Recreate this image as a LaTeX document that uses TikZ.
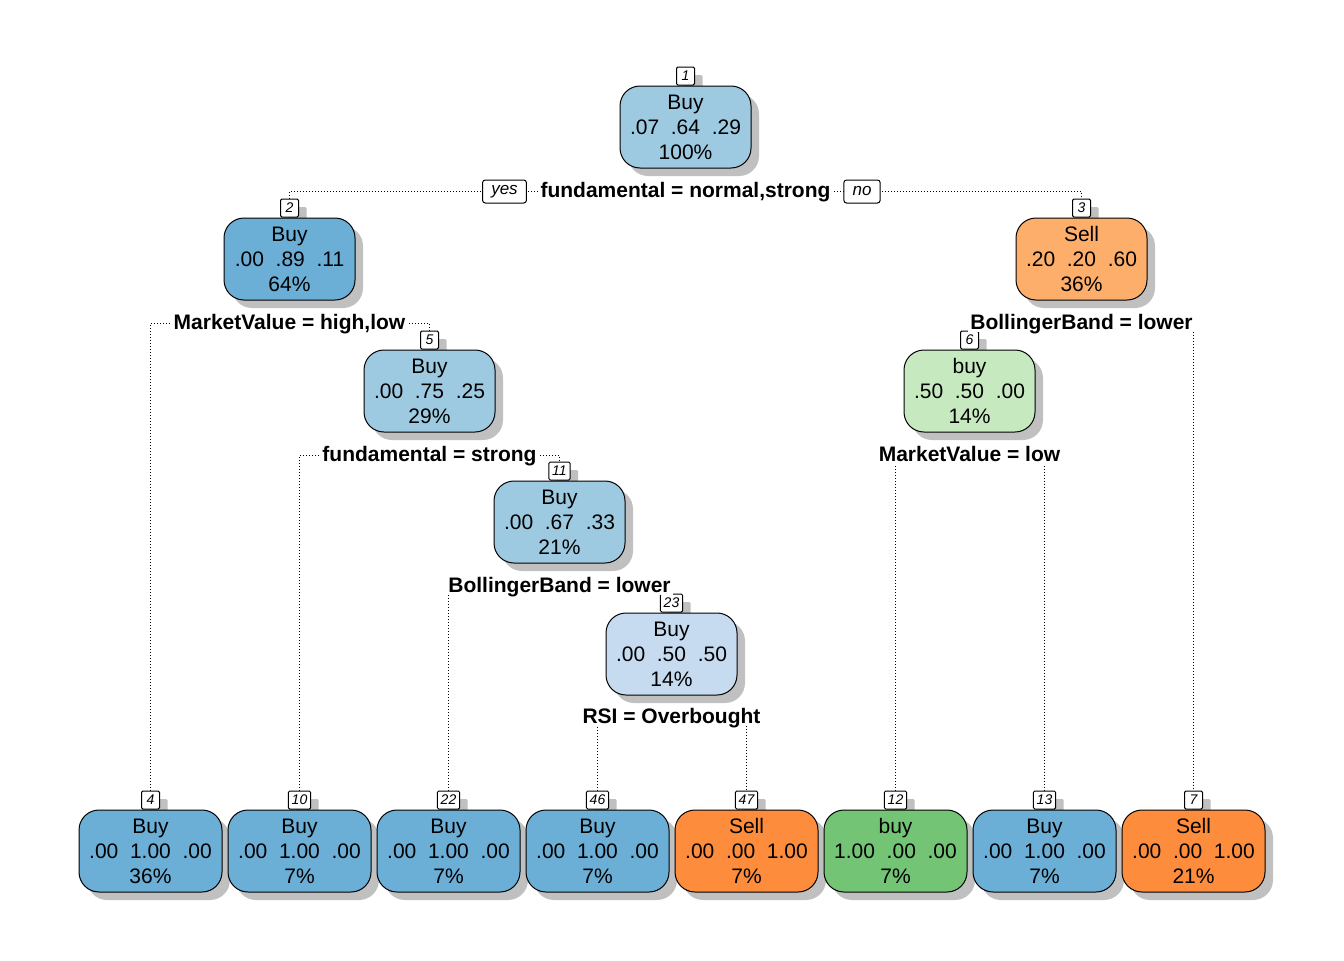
\documentclass[tikz,border=0pt]{standalone}
\usepackage{fontspec}
\setmainfont{Liberation Sans}
\usepackage{tikz}
\usetikzlibrary{shapes,positioning,shadows,backgrounds}
\usepackage{xcolor}
\definecolor{rpblue1}{RGB}{198,219,239}
\definecolor{rpblue2}{RGB}{158,202,225}
\definecolor{rpblue3}{RGB}{107,174,214}
\definecolor{rporange1}{RGB}{253,174,107}
\definecolor{rporange2}{RGB}{253,141,60}
\definecolor{rpgreen1}{RGB}{199,233,192}
\definecolor{rpgreen2}{RGB}{116,196,118}
\definecolor{rpshadow}{RGB}{192,192,192}
\tikzstyle{edge} = [line width=0.75pt, dash pattern=on 0.75pt off 1.5pt, color=black]
\tikzstyle{treenode} = [rectangle, rounded corners=15pt, minimum width=98.25pt, minimum height=61.5pt, text centered, align=center, draw=black, line width=0.75pt, inner sep=1pt, font=\fontsize{15.75}{18.75}\selectfont, drop shadow={shadow xshift=6pt, shadow yshift=-6pt, fill=rpshadow, opacity=1}]
\tikzstyle{leaf} = [treenode, minimum width=107.25pt]
\tikzstyle{numbox} = [rectangle, rounded corners=1pt, draw=black, fill=white, line width=0.75pt, anchor=south, minimum width=13.5pt, minimum height=13.5pt, inner xsep=2.5pt, inner ysep=0pt, font=\fontsize{10.5}{12}\selectfont\itshape, drop shadow={shadow xshift=6pt, shadow yshift=-6pt, fill=rpshadow, opacity=1}]
\tikzstyle{splitlabel} = [fill=white, inner xsep=1.5pt, inner ysep=0.5pt, text height=11.3pt, text depth=1.2pt, font=\fontsize{15.75}{18.75}\selectfont\bfseries]
\tikzstyle{yesno} = [rectangle, rounded corners=2pt, draw=black, fill=white, line width=0.75pt, minimum height=17.25pt, inner xsep=6.5pt, inner ysep=0pt, font=\fontsize{12.75}{14}\selectfont\itshape]

\begin{document}
\begin{tikzpicture}[x=0.75pt, y=-0.75pt]
    \useasboundingbox (0,0) rectangle (1344,960);

    % Inner nodes
    \node[treenode, fill=rpblue2] (n1) at (685.5, 127) {Buy\\.07~~.64~~.29\\100\%};
    \node[treenode, fill=rpblue3] (n2) at (289.5, 259) {Buy\\.00~~.89~~.11\\64\%};
    \node[treenode, fill=rporange1] (n3) at (1081.5, 259) {Sell\\.20~~.20~~.60\\36\%};
    \node[treenode, fill=rpblue2] (n5) at (429.5, 391) {Buy\\.00~~.75~~.25\\29\%};
    \node[treenode, fill=rpgreen1] (n6) at (969.5, 391) {buy\\.50~~.50~~.00\\14\%};
    \node[treenode, fill=rpblue2] (n11) at (559.5, 522) {Buy\\.00~~.67~~.33\\21\%};
    \node[treenode, fill=rpblue1] (n23) at (671.5, 654) {Buy\\.00~~.50~~.50\\14\%};

    % Leaves
    \node[leaf, fill=rpblue3] (n4) at (150.5, 851) {Buy\\.00~~1.00~~.00\\36\%};
    \node[leaf, fill=rpblue3] (n10) at (299.5, 851) {Buy\\.00~~1.00~~.00\\7\%};
    \node[leaf, fill=rpblue3] (n22) at (448.5, 851) {Buy\\.00~~1.00~~.00\\7\%};
    \node[leaf, fill=rpblue3] (n46) at (597.5, 851) {Buy\\.00~~1.00~~.00\\7\%};
    \node[leaf, fill=rporange2] (n47) at (746.5, 851) {Sell\\.00~~.00~~1.00\\7\%};
    \node[leaf, fill=rpgreen2] (n12) at (895.5, 851) {buy\\1.00~~.00~~.00\\7\%};
    \node[leaf, fill=rpblue3] (n13) at (1044.5, 851) {Buy\\.00~~1.00~~.00\\7\%};
    \node[leaf, fill=rporange2] (n7) at (1193.5, 851) {Sell\\.00~~.00~~1.00\\21\%};

    % Node numbers
    \begin{pgfonlayer}{background}
    \foreach \k in {1,2,3,5,6,11,23,4,10,22,46,47,12,13,7}
        \node[numbox] (b\k) at (n\k.north) {\k};
    \end{pgfonlayer}

    % Split points
    \coordinate (s1) at (685.5, 191);
    \coordinate (s2) at (289.5, 323);
    \coordinate (s3) at (1081.5, 323);
    \coordinate (s5) at (429.5, 455);
    \coordinate (s6) at (969.5, 455);
    \coordinate (s11) at (559.5, 586);
    \coordinate (s23) at (671.5, 717);

    % Edges
    \draw[edge] (b2.north) |- (s1) -| (b3.north);
    \draw[edge] (b4.north) |- (s2) -| (b5.north);
    \draw[edge] (b6.north) |- (s3) -| (b7.north);
    \draw[edge] (b10.north) |- (s5) -| (b11.north);
    \draw[edge] (b12.north) |- (s6) -| (b13.north);
    \draw[edge] (b22.north) |- (s11) -| (b23.north);
    \draw[edge] (b46.north) |- (s23) -| (b47.north);

    % Split labels
    \node[splitlabel] (l1) at (s1) {fundamental = normal,strong};
    \node[splitlabel] (l2) at (s2) {MarketValue = high,low};
    \node[splitlabel] (l3) at (s3) {BollingerBand = lower};
    \node[splitlabel] (l5) at (s5) {fundamental = strong};
    \node[splitlabel] (l6) at (s6) {MarketValue = low};
    \node[splitlabel] (l11) at (s11) {BollingerBand = lower};
    \node[splitlabel] (l23) at (s23) {RSI = Overbought};

    % yes / no
    \node[yesno] (yes) at (504.5, 191.5) {yes};
    \node[yesno] (no) at (862, 191.5) {no};
\end{tikzpicture}
\end{document}
